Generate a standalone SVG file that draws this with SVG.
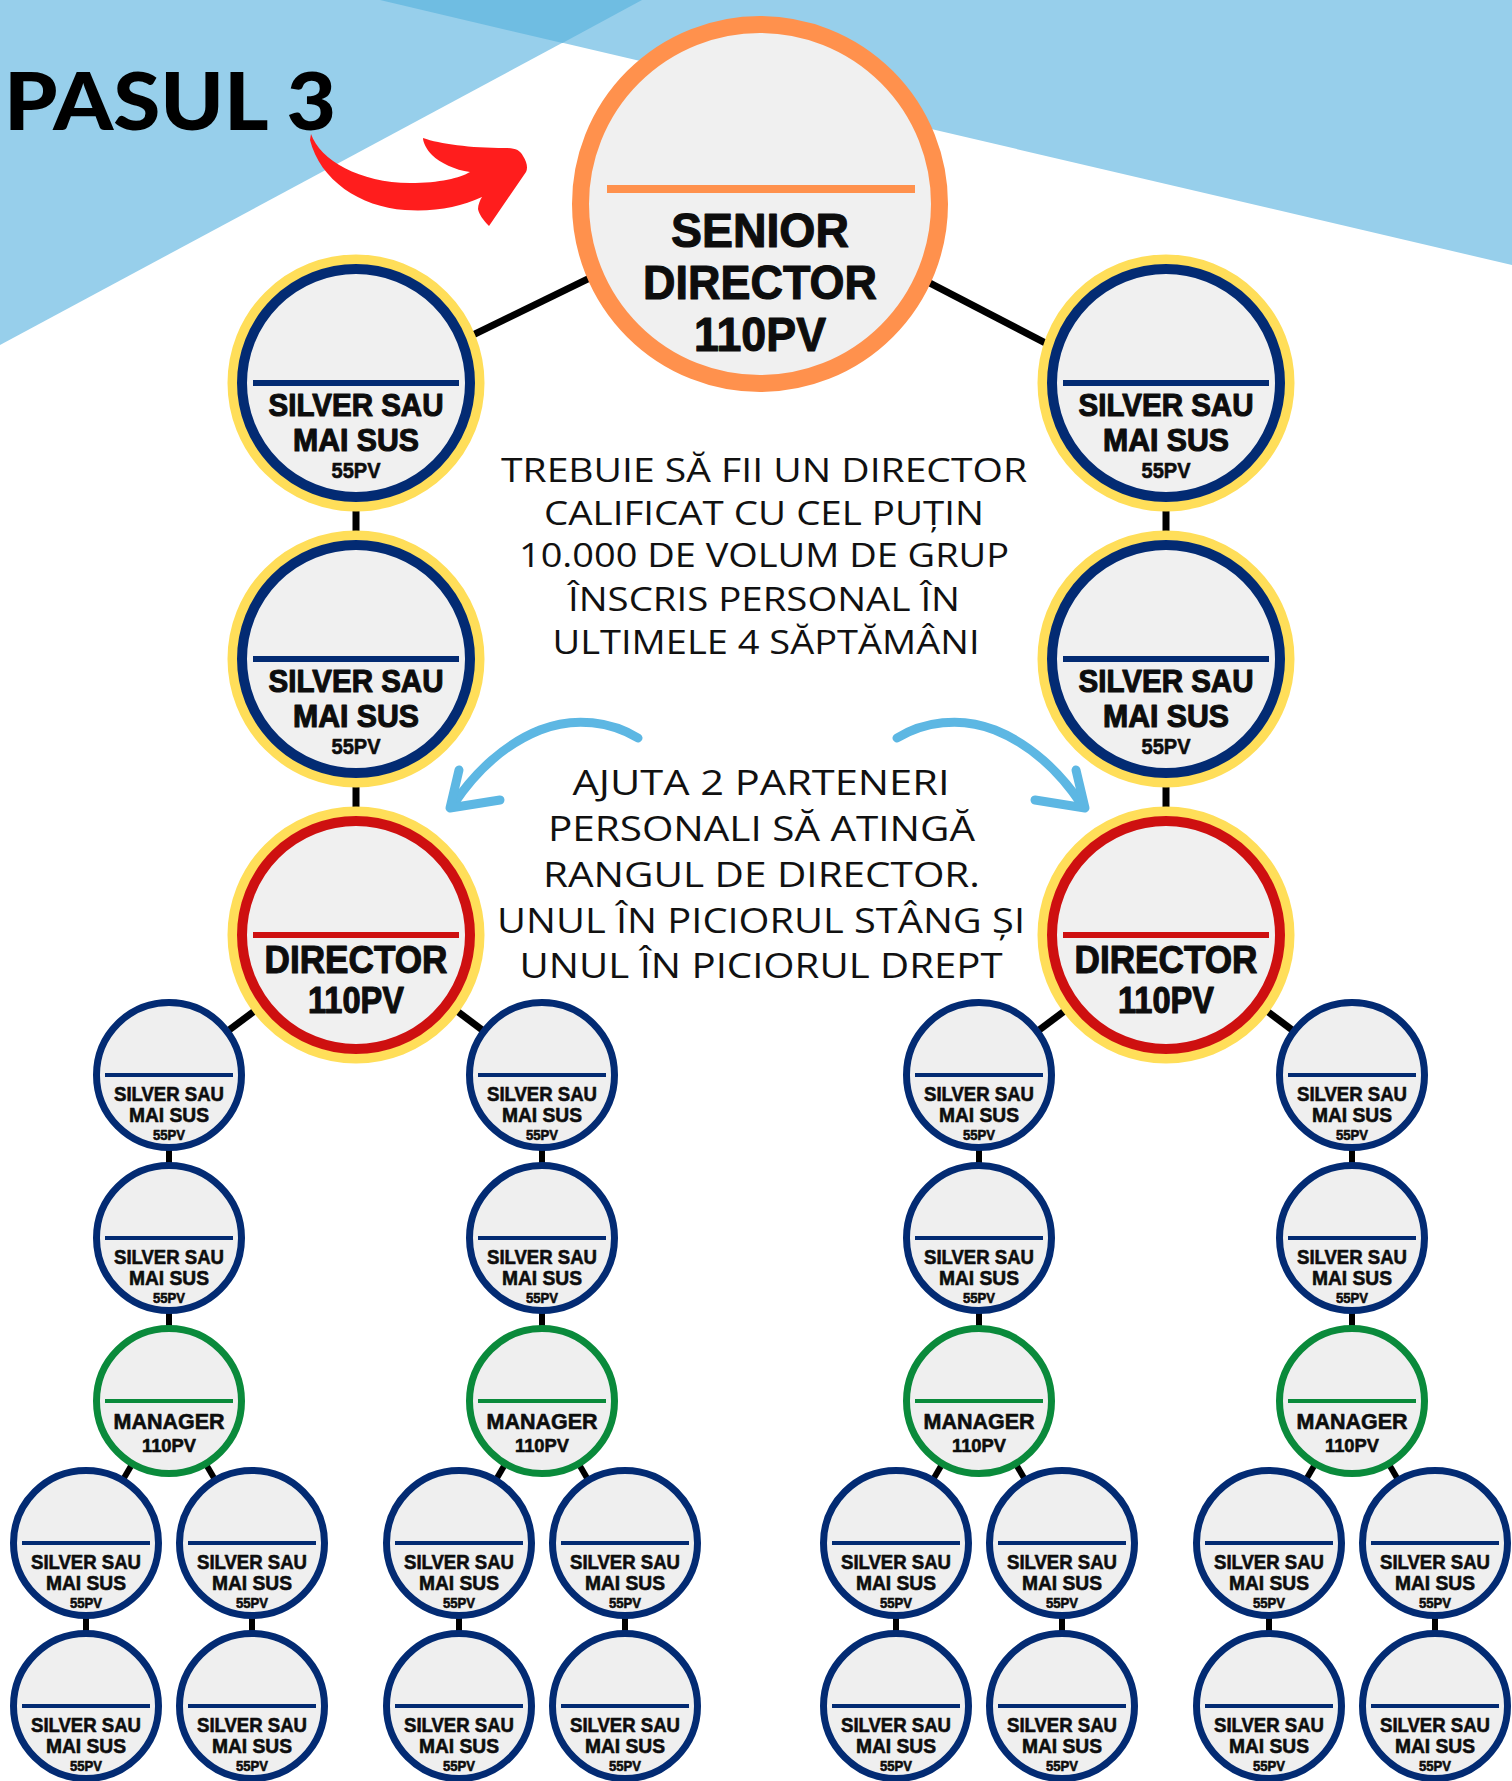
<svg xmlns="http://www.w3.org/2000/svg" width="1512" height="1781" viewBox="0 0 1512 1781">
<defs>
<style>
.bgl{fill:#97CFEB}
.bgd{fill:#6FBDE2}
.conn line{stroke:#000;stroke-width:7}
.conn line.s{stroke-width:6}
.yel{fill:#F0F0F0;stroke:#FFDE59;stroke-width:10}
.rb{fill:none;stroke:#032B73;stroke-width:10}
.rr{fill:none;stroke:#CE1010;stroke-width:10}
.sb{fill:#EFEFEF;stroke:#032B73;stroke-width:7}
.sg{fill:#EFEFEF;stroke:#0A8A3B;stroke-width:7}
.lb{fill:#032B73}
.lr{fill:#CE1010}
.lg{fill:#0A8A3B}
.lo{fill:#FF914D}
.t{font-family:"Liberation Sans",Arial,sans-serif;font-weight:700;text-anchor:middle;fill:#0D0D0D;stroke:#0D0D0D;stroke-width:0.6;stroke-linejoin:round}
.tb{stroke-width:1.1}
.body{font-family:"Open Sans","Noto Sans",sans-serif;font-weight:400;text-anchor:middle;fill:#111}
.barrow{fill:none;stroke:#5DB7E3;stroke-width:9;stroke-linecap:round;stroke-linejoin:round}
</style>
</defs>
<rect width="1512" height="1781" fill="#FFFFFF"/>
<g id="background">
<polygon class="bgl" points="0,0 642,0 0,345"/>
<polygon class="bgl" points="380,0 1512,0 1512,265"/>
<polygon class="bgd" points="380,0 642,0 562.5,43"/>
</g>
<g id="title">
<text x="4" y="130" font-family="Lato,'Liberation Sans',sans-serif" font-weight="900" font-size="80" textLength="332" lengthAdjust="spacingAndGlyphs" fill="#000">PASUL 3</text>
</g>
<g id="red-arrow">
<path fill="#FF1D1D" d="M 311 134 C 320 160 360 183 410 183 C 440 183 460 178 470 172 C 455 170 440 163 432 155 C 426 149 423 142 423 138 C 440 144 470 148 505 148 C 515 148 520 150 523 156 C 527 162 528 168 526 172 L 489 226 C 483 220 479 214 478 209 C 478 205 480 200 482 197 C 460 207 435 212 405 210 C 360 207 320 180 310 140 Z"/>
</g>
<g id="connectors" class="conn">
<line x1="760" y1="195" x2="356" y2="392"/>
<line x1="760" y1="195" x2="1167" y2="406"/>
<line x1="356" y1="383" x2="356" y2="935"/>
<line x1="1166" y1="383" x2="1166" y2="935"/>
<line x1="356" y1="935" x2="169" y2="1075"/>
<line x1="356" y1="935" x2="542" y2="1075"/>
<line x1="1166" y1="935" x2="979" y2="1075"/>
<line x1="1166" y1="935" x2="1352" y2="1075"/>
<line class="s" x1="169" y1="1075" x2="169" y2="1401"/>
<line class="s" x1="542" y1="1075" x2="542" y2="1401"/>
<line class="s" x1="979" y1="1075" x2="979" y2="1401"/>
<line class="s" x1="1352" y1="1075" x2="1352" y2="1401"/>
<line class="s" x1="169" y1="1401" x2="86" y2="1543"/>
<line class="s" x1="169" y1="1401" x2="252" y2="1543"/>
<line class="s" x1="542" y1="1401" x2="459" y2="1543"/>
<line class="s" x1="542" y1="1401" x2="625" y2="1543"/>
<line class="s" x1="979" y1="1401" x2="896" y2="1543"/>
<line class="s" x1="979" y1="1401" x2="1062" y2="1543"/>
<line class="s" x1="1352" y1="1401" x2="1269" y2="1543"/>
<line class="s" x1="1352" y1="1401" x2="1435" y2="1543"/>
<line class="s" x1="86" y1="1543" x2="86" y2="1706"/>
<line class="s" x1="252" y1="1543" x2="252" y2="1706"/>
<line class="s" x1="459" y1="1543" x2="459" y2="1706"/>
<line class="s" x1="625" y1="1543" x2="625" y2="1706"/>
<line class="s" x1="896" y1="1543" x2="896" y2="1706"/>
<line class="s" x1="1062" y1="1543" x2="1062" y2="1706"/>
<line class="s" x1="1269" y1="1543" x2="1269" y2="1706"/>
<line class="s" x1="1435" y1="1543" x2="1435" y2="1706"/>
</g>
<g id="blue-arrows">
<g id="arrow-left">
<path class="barrow" d="M 638 738 C 612 722 575 716 540 730 C 505 744 475 772 453 805"/>
<polyline class="barrow" points="459,770 450,808 500,800"/>
</g>
<g id="arrow-right" transform="translate(1535 0) scale(-1 1)">
<path class="barrow" d="M 638 738 C 612 722 575 716 540 730 C 505 744 475 772 453 805"/>
<polyline class="barrow" points="459,770 450,808 500,800"/>
</g>
</g>
<g id="text-requirement" class="body" font-size="33">
<text x="764" y="482" textLength="526" lengthAdjust="spacingAndGlyphs">TREBUIE SĂ FII UN DIRECTOR</text>
<text x="764" y="524.5" textLength="440" lengthAdjust="spacingAndGlyphs">CALIFICAT CU CEL PUȚIN</text>
<text x="764" y="567" textLength="490" lengthAdjust="spacingAndGlyphs">10.000 DE VOLUM DE GRUP</text>
<text x="764" y="611" textLength="392" lengthAdjust="spacingAndGlyphs">ÎNSCRIS PERSONAL ÎN</text>
<text x="766" y="654" textLength="427" lengthAdjust="spacingAndGlyphs">ULTIMELE 4 SĂPTĂMÂNI</text>
</g>
<g id="text-help" class="body" font-size="34">
<text x="761" y="795" textLength="377" lengthAdjust="spacingAndGlyphs">AJUTA 2 PARTENERI</text>
<text x="761.5" y="841" textLength="427" lengthAdjust="spacingAndGlyphs">PERSONALI SĂ ATINGĂ</text>
<text x="761.5" y="887" textLength="437" lengthAdjust="spacingAndGlyphs">RANGUL DE DIRECTOR.</text>
<text x="761" y="933" textLength="528" lengthAdjust="spacingAndGlyphs">UNUL ÎN PICIORUL STÂNG ȘI</text>
<text x="761" y="978" textLength="483" lengthAdjust="spacingAndGlyphs">UNUL ÎN PICIORUL DREPT</text>
</g>
<g id="node-senior" transform="translate(760 204)">
<circle r="179.5" fill="#F0F0F0" stroke="#FF914D" stroke-width="17"/>
<rect class="lo" x="-153" y="-19" width="308" height="8"/>
<text class="t tb" y="43" font-size="48" textLength="178" lengthAdjust="spacingAndGlyphs">SENIOR</text>
<text class="t tb" y="95" font-size="48" textLength="234" lengthAdjust="spacingAndGlyphs">DIRECTOR</text>
<text class="t tb" y="147" font-size="48" textLength="132" lengthAdjust="spacingAndGlyphs">110PV</text>
</g>
<g id="node-silver-l1" transform="translate(356 383)">
<circle class="yel" r="123.5"/><circle class="rb" r="114"/>
<rect class="lb" x="-103" y="-3" width="206" height="6"/>
<text class="t tb" y="33" font-size="32" textLength="175" lengthAdjust="spacingAndGlyphs">SILVER SAU</text>
<text class="t tb" y="68" font-size="32" textLength="126" lengthAdjust="spacingAndGlyphs">MAI SUS</text>
<text class="t" y="95" font-size="22" textLength="49" lengthAdjust="spacingAndGlyphs">55PV</text>
</g>
<g id="node-silver-r1" transform="translate(1166 383)">
<circle class="yel" r="123.5"/><circle class="rb" r="114"/>
<rect class="lb" x="-103" y="-3" width="206" height="6"/>
<text class="t tb" y="33" font-size="32" textLength="175" lengthAdjust="spacingAndGlyphs">SILVER SAU</text>
<text class="t tb" y="68" font-size="32" textLength="126" lengthAdjust="spacingAndGlyphs">MAI SUS</text>
<text class="t" y="95" font-size="22" textLength="49" lengthAdjust="spacingAndGlyphs">55PV</text>
</g>
<g id="node-silver-l2" transform="translate(356 659)">
<circle class="yel" r="123.5"/><circle class="rb" r="114"/>
<rect class="lb" x="-103" y="-3" width="206" height="6"/>
<text class="t tb" y="33" font-size="32" textLength="175" lengthAdjust="spacingAndGlyphs">SILVER SAU</text>
<text class="t tb" y="68" font-size="32" textLength="126" lengthAdjust="spacingAndGlyphs">MAI SUS</text>
<text class="t" y="95" font-size="22" textLength="49" lengthAdjust="spacingAndGlyphs">55PV</text>
</g>
<g id="node-silver-r2" transform="translate(1166 659)">
<circle class="yel" r="123.5"/><circle class="rb" r="114"/>
<rect class="lb" x="-103" y="-3" width="206" height="6"/>
<text class="t tb" y="33" font-size="32" textLength="175" lengthAdjust="spacingAndGlyphs">SILVER SAU</text>
<text class="t tb" y="68" font-size="32" textLength="126" lengthAdjust="spacingAndGlyphs">MAI SUS</text>
<text class="t" y="95" font-size="22" textLength="49" lengthAdjust="spacingAndGlyphs">55PV</text>
</g>
<g id="node-director-l" transform="translate(356 935)">
<circle class="yel" r="123.5"/><circle class="rr" r="114"/>
<rect class="lr" x="-103" y="-3" width="206" height="6"/>
<text class="t tb" y="38" font-size="39" textLength="183" lengthAdjust="spacingAndGlyphs">DIRECTOR</text>
<text class="t tb" y="78" font-size="37" textLength="96" lengthAdjust="spacingAndGlyphs">110PV</text>
</g>
<g id="node-director-r" transform="translate(1166 935)">
<circle class="yel" r="123.5"/><circle class="rr" r="114"/>
<rect class="lr" x="-103" y="-3" width="206" height="6"/>
<text class="t tb" y="38" font-size="39" textLength="183" lengthAdjust="spacingAndGlyphs">DIRECTOR</text>
<text class="t tb" y="78" font-size="37" textLength="96" lengthAdjust="spacingAndGlyphs">110PV</text>
</g>
<g id="node-a1" transform="translate(169 1075)"><circle class="sb" r="72.5"/><rect class="lb" x="-64" y="-2" width="128" height="4"/><text class="t" y="25.5" font-size="20" textLength="110" lengthAdjust="spacingAndGlyphs">SILVER SAU</text><text class="t" y="46.5" font-size="20" textLength="80" lengthAdjust="spacingAndGlyphs">MAI SUS</text><text class="t" y="64.5" font-size="14" textLength="32" lengthAdjust="spacingAndGlyphs">55PV</text></g>
<g id="node-a2" transform="translate(169 1238)"><circle class="sb" r="72.5"/><rect class="lb" x="-64" y="-2" width="128" height="4"/><text class="t" y="25.5" font-size="20" textLength="110" lengthAdjust="spacingAndGlyphs">SILVER SAU</text><text class="t" y="46.5" font-size="20" textLength="80" lengthAdjust="spacingAndGlyphs">MAI SUS</text><text class="t" y="64.5" font-size="14" textLength="32" lengthAdjust="spacingAndGlyphs">55PV</text></g>
<g id="node-a-manager" transform="translate(169 1401)"><circle class="sg" r="72.5"/><rect class="lg" x="-64" y="-2" width="128" height="4"/><text class="t" y="28" font-size="22" textLength="111" lengthAdjust="spacingAndGlyphs">MANAGER</text><text class="t" y="51" font-size="19" textLength="54" lengthAdjust="spacingAndGlyphs">110PV</text></g>
<g id="node-b1" transform="translate(542 1075)"><circle class="sb" r="72.5"/><rect class="lb" x="-64" y="-2" width="128" height="4"/><text class="t" y="25.5" font-size="20" textLength="110" lengthAdjust="spacingAndGlyphs">SILVER SAU</text><text class="t" y="46.5" font-size="20" textLength="80" lengthAdjust="spacingAndGlyphs">MAI SUS</text><text class="t" y="64.5" font-size="14" textLength="32" lengthAdjust="spacingAndGlyphs">55PV</text></g>
<g id="node-b2" transform="translate(542 1238)"><circle class="sb" r="72.5"/><rect class="lb" x="-64" y="-2" width="128" height="4"/><text class="t" y="25.5" font-size="20" textLength="110" lengthAdjust="spacingAndGlyphs">SILVER SAU</text><text class="t" y="46.5" font-size="20" textLength="80" lengthAdjust="spacingAndGlyphs">MAI SUS</text><text class="t" y="64.5" font-size="14" textLength="32" lengthAdjust="spacingAndGlyphs">55PV</text></g>
<g id="node-b-manager" transform="translate(542 1401)"><circle class="sg" r="72.5"/><rect class="lg" x="-64" y="-2" width="128" height="4"/><text class="t" y="28" font-size="22" textLength="111" lengthAdjust="spacingAndGlyphs">MANAGER</text><text class="t" y="51" font-size="19" textLength="54" lengthAdjust="spacingAndGlyphs">110PV</text></g>
<g id="node-c1" transform="translate(979 1075)"><circle class="sb" r="72.5"/><rect class="lb" x="-64" y="-2" width="128" height="4"/><text class="t" y="25.5" font-size="20" textLength="110" lengthAdjust="spacingAndGlyphs">SILVER SAU</text><text class="t" y="46.5" font-size="20" textLength="80" lengthAdjust="spacingAndGlyphs">MAI SUS</text><text class="t" y="64.5" font-size="14" textLength="32" lengthAdjust="spacingAndGlyphs">55PV</text></g>
<g id="node-c2" transform="translate(979 1238)"><circle class="sb" r="72.5"/><rect class="lb" x="-64" y="-2" width="128" height="4"/><text class="t" y="25.5" font-size="20" textLength="110" lengthAdjust="spacingAndGlyphs">SILVER SAU</text><text class="t" y="46.5" font-size="20" textLength="80" lengthAdjust="spacingAndGlyphs">MAI SUS</text><text class="t" y="64.5" font-size="14" textLength="32" lengthAdjust="spacingAndGlyphs">55PV</text></g>
<g id="node-c-manager" transform="translate(979 1401)"><circle class="sg" r="72.5"/><rect class="lg" x="-64" y="-2" width="128" height="4"/><text class="t" y="28" font-size="22" textLength="111" lengthAdjust="spacingAndGlyphs">MANAGER</text><text class="t" y="51" font-size="19" textLength="54" lengthAdjust="spacingAndGlyphs">110PV</text></g>
<g id="node-d1" transform="translate(1352 1075)"><circle class="sb" r="72.5"/><rect class="lb" x="-64" y="-2" width="128" height="4"/><text class="t" y="25.5" font-size="20" textLength="110" lengthAdjust="spacingAndGlyphs">SILVER SAU</text><text class="t" y="46.5" font-size="20" textLength="80" lengthAdjust="spacingAndGlyphs">MAI SUS</text><text class="t" y="64.5" font-size="14" textLength="32" lengthAdjust="spacingAndGlyphs">55PV</text></g>
<g id="node-d2" transform="translate(1352 1238)"><circle class="sb" r="72.5"/><rect class="lb" x="-64" y="-2" width="128" height="4"/><text class="t" y="25.5" font-size="20" textLength="110" lengthAdjust="spacingAndGlyphs">SILVER SAU</text><text class="t" y="46.5" font-size="20" textLength="80" lengthAdjust="spacingAndGlyphs">MAI SUS</text><text class="t" y="64.5" font-size="14" textLength="32" lengthAdjust="spacingAndGlyphs">55PV</text></g>
<g id="node-d-manager" transform="translate(1352 1401)"><circle class="sg" r="72.5"/><rect class="lg" x="-64" y="-2" width="128" height="4"/><text class="t" y="28" font-size="22" textLength="111" lengthAdjust="spacingAndGlyphs">MANAGER</text><text class="t" y="51" font-size="19" textLength="54" lengthAdjust="spacingAndGlyphs">110PV</text></g>
<g id="node-a3l" transform="translate(86 1543)"><circle class="sb" r="72.5"/><rect class="lb" x="-64" y="-2" width="128" height="4"/><text class="t" y="25.5" font-size="20" textLength="110" lengthAdjust="spacingAndGlyphs">SILVER SAU</text><text class="t" y="46.5" font-size="20" textLength="80" lengthAdjust="spacingAndGlyphs">MAI SUS</text><text class="t" y="64.5" font-size="14" textLength="32" lengthAdjust="spacingAndGlyphs">55PV</text></g>
<g id="node-a3r" transform="translate(252 1543)"><circle class="sb" r="72.5"/><rect class="lb" x="-64" y="-2" width="128" height="4"/><text class="t" y="25.5" font-size="20" textLength="110" lengthAdjust="spacingAndGlyphs">SILVER SAU</text><text class="t" y="46.5" font-size="20" textLength="80" lengthAdjust="spacingAndGlyphs">MAI SUS</text><text class="t" y="64.5" font-size="14" textLength="32" lengthAdjust="spacingAndGlyphs">55PV</text></g>
<g id="node-b3l" transform="translate(459 1543)"><circle class="sb" r="72.5"/><rect class="lb" x="-64" y="-2" width="128" height="4"/><text class="t" y="25.5" font-size="20" textLength="110" lengthAdjust="spacingAndGlyphs">SILVER SAU</text><text class="t" y="46.5" font-size="20" textLength="80" lengthAdjust="spacingAndGlyphs">MAI SUS</text><text class="t" y="64.5" font-size="14" textLength="32" lengthAdjust="spacingAndGlyphs">55PV</text></g>
<g id="node-b3r" transform="translate(625 1543)"><circle class="sb" r="72.5"/><rect class="lb" x="-64" y="-2" width="128" height="4"/><text class="t" y="25.5" font-size="20" textLength="110" lengthAdjust="spacingAndGlyphs">SILVER SAU</text><text class="t" y="46.5" font-size="20" textLength="80" lengthAdjust="spacingAndGlyphs">MAI SUS</text><text class="t" y="64.5" font-size="14" textLength="32" lengthAdjust="spacingAndGlyphs">55PV</text></g>
<g id="node-c3l" transform="translate(896 1543)"><circle class="sb" r="72.5"/><rect class="lb" x="-64" y="-2" width="128" height="4"/><text class="t" y="25.5" font-size="20" textLength="110" lengthAdjust="spacingAndGlyphs">SILVER SAU</text><text class="t" y="46.5" font-size="20" textLength="80" lengthAdjust="spacingAndGlyphs">MAI SUS</text><text class="t" y="64.5" font-size="14" textLength="32" lengthAdjust="spacingAndGlyphs">55PV</text></g>
<g id="node-c3r" transform="translate(1062 1543)"><circle class="sb" r="72.5"/><rect class="lb" x="-64" y="-2" width="128" height="4"/><text class="t" y="25.5" font-size="20" textLength="110" lengthAdjust="spacingAndGlyphs">SILVER SAU</text><text class="t" y="46.5" font-size="20" textLength="80" lengthAdjust="spacingAndGlyphs">MAI SUS</text><text class="t" y="64.5" font-size="14" textLength="32" lengthAdjust="spacingAndGlyphs">55PV</text></g>
<g id="node-d3l" transform="translate(1269 1543)"><circle class="sb" r="72.5"/><rect class="lb" x="-64" y="-2" width="128" height="4"/><text class="t" y="25.5" font-size="20" textLength="110" lengthAdjust="spacingAndGlyphs">SILVER SAU</text><text class="t" y="46.5" font-size="20" textLength="80" lengthAdjust="spacingAndGlyphs">MAI SUS</text><text class="t" y="64.5" font-size="14" textLength="32" lengthAdjust="spacingAndGlyphs">55PV</text></g>
<g id="node-d3r" transform="translate(1435 1543)"><circle class="sb" r="72.5"/><rect class="lb" x="-64" y="-2" width="128" height="4"/><text class="t" y="25.5" font-size="20" textLength="110" lengthAdjust="spacingAndGlyphs">SILVER SAU</text><text class="t" y="46.5" font-size="20" textLength="80" lengthAdjust="spacingAndGlyphs">MAI SUS</text><text class="t" y="64.5" font-size="14" textLength="32" lengthAdjust="spacingAndGlyphs">55PV</text></g>
<g id="node-a4l" transform="translate(86 1706)"><circle class="sb" r="72.5"/><rect class="lb" x="-64" y="-2" width="128" height="4"/><text class="t" y="25.5" font-size="20" textLength="110" lengthAdjust="spacingAndGlyphs">SILVER SAU</text><text class="t" y="46.5" font-size="20" textLength="80" lengthAdjust="spacingAndGlyphs">MAI SUS</text><text class="t" y="64.5" font-size="14" textLength="32" lengthAdjust="spacingAndGlyphs">55PV</text></g>
<g id="node-a4r" transform="translate(252 1706)"><circle class="sb" r="72.5"/><rect class="lb" x="-64" y="-2" width="128" height="4"/><text class="t" y="25.5" font-size="20" textLength="110" lengthAdjust="spacingAndGlyphs">SILVER SAU</text><text class="t" y="46.5" font-size="20" textLength="80" lengthAdjust="spacingAndGlyphs">MAI SUS</text><text class="t" y="64.5" font-size="14" textLength="32" lengthAdjust="spacingAndGlyphs">55PV</text></g>
<g id="node-b4l" transform="translate(459 1706)"><circle class="sb" r="72.5"/><rect class="lb" x="-64" y="-2" width="128" height="4"/><text class="t" y="25.5" font-size="20" textLength="110" lengthAdjust="spacingAndGlyphs">SILVER SAU</text><text class="t" y="46.5" font-size="20" textLength="80" lengthAdjust="spacingAndGlyphs">MAI SUS</text><text class="t" y="64.5" font-size="14" textLength="32" lengthAdjust="spacingAndGlyphs">55PV</text></g>
<g id="node-b4r" transform="translate(625 1706)"><circle class="sb" r="72.5"/><rect class="lb" x="-64" y="-2" width="128" height="4"/><text class="t" y="25.5" font-size="20" textLength="110" lengthAdjust="spacingAndGlyphs">SILVER SAU</text><text class="t" y="46.5" font-size="20" textLength="80" lengthAdjust="spacingAndGlyphs">MAI SUS</text><text class="t" y="64.5" font-size="14" textLength="32" lengthAdjust="spacingAndGlyphs">55PV</text></g>
<g id="node-c4l" transform="translate(896 1706)"><circle class="sb" r="72.5"/><rect class="lb" x="-64" y="-2" width="128" height="4"/><text class="t" y="25.5" font-size="20" textLength="110" lengthAdjust="spacingAndGlyphs">SILVER SAU</text><text class="t" y="46.5" font-size="20" textLength="80" lengthAdjust="spacingAndGlyphs">MAI SUS</text><text class="t" y="64.5" font-size="14" textLength="32" lengthAdjust="spacingAndGlyphs">55PV</text></g>
<g id="node-c4r" transform="translate(1062 1706)"><circle class="sb" r="72.5"/><rect class="lb" x="-64" y="-2" width="128" height="4"/><text class="t" y="25.5" font-size="20" textLength="110" lengthAdjust="spacingAndGlyphs">SILVER SAU</text><text class="t" y="46.5" font-size="20" textLength="80" lengthAdjust="spacingAndGlyphs">MAI SUS</text><text class="t" y="64.5" font-size="14" textLength="32" lengthAdjust="spacingAndGlyphs">55PV</text></g>
<g id="node-d4l" transform="translate(1269 1706)"><circle class="sb" r="72.5"/><rect class="lb" x="-64" y="-2" width="128" height="4"/><text class="t" y="25.5" font-size="20" textLength="110" lengthAdjust="spacingAndGlyphs">SILVER SAU</text><text class="t" y="46.5" font-size="20" textLength="80" lengthAdjust="spacingAndGlyphs">MAI SUS</text><text class="t" y="64.5" font-size="14" textLength="32" lengthAdjust="spacingAndGlyphs">55PV</text></g>
<g id="node-d4r" transform="translate(1435 1706)"><circle class="sb" r="72.5"/><rect class="lb" x="-64" y="-2" width="128" height="4"/><text class="t" y="25.5" font-size="20" textLength="110" lengthAdjust="spacingAndGlyphs">SILVER SAU</text><text class="t" y="46.5" font-size="20" textLength="80" lengthAdjust="spacingAndGlyphs">MAI SUS</text><text class="t" y="64.5" font-size="14" textLength="32" lengthAdjust="spacingAndGlyphs">55PV</text></g>
</svg>
